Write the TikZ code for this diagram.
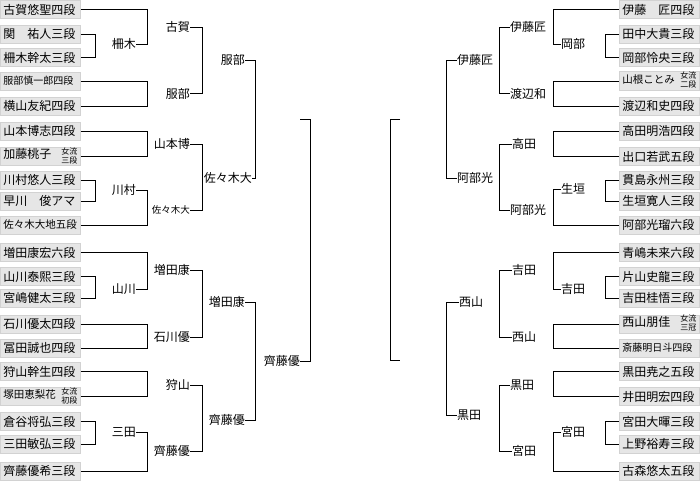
\documentclass[tikz,border=0pt]{standalone}
\usepackage{fontspec}
\setmainfont{Noto Sans CJK JP}
\newcommand{\fsz}[1]{\fontsize{#1}{#1}\selectfont}
\newcommand{\jyr}[2]{{\fontsize{8}{8.2}\selectfont\begin{tabular}[c]{@{}c@{}}#1\\#2\end{tabular}}}
\definecolor{boxfill}{HTML}{E6E6E6}
\definecolor{boxline}{HTML}{D2D2D2}
\begin{document}
\begin{tikzpicture}[x=1pt,y=-1pt,
  pbox/.style={draw=boxline, fill=boxfill, line width=0.8pt, minimum height=18pt, text width=74pt, inner xsep=3pt, inner ysep=0pt, align=left, font=\fsz{12}, anchor=west},
  lblL/.style={inner sep=0pt, anchor=east, font=\fsz{12}},
  lblR/.style={inner sep=0pt, anchor=west, font=\fsz{12}},
  conn/.style={line width=1pt, black}]
\useasboundingbox (0,0) rectangle (700,480);
% ---------- left players ----------
\node[pbox] (L1) at (0,9.5) {古賀悠聖四段};
\node[pbox] (L2) at (0,34) {関　祐人三段};
\node[pbox] (L3) at (0,57.5) {柵木幹太三段};
\node[pbox] (L4) at (0,81) {\fsz{10}服部慎一郎四段};
\node[pbox] (L5) at (0,106) {横山友紀四段};
\node[pbox] (L6) at (0,131) {山本博志四段};
\node[pbox] (L7) at (0,156.5) {加藤桃子\hfill\jyr{女流}{三段}\hspace*{1pt}};
\node[pbox] (L8) at (0,180) {川村悠人三段};
\node[pbox] (L9) at (0,201) {早川　俊アマ};
\node[pbox] (L10) at (0,225) {\fsz{10.5}佐々木大地五段};
\node[pbox] (L11) at (0,252.5) {増田康宏六段};
\node[pbox] (L12) at (0,276.5) {山川泰熙三段};
\node[pbox] (L13) at (0,298) {宮嶋健太三段};
\node[pbox] (L14) at (0,324) {石川優太四段};
\node[pbox] (L15) at (0,348) {冨田誠也四段};
\node[pbox] (L16) at (0,371.5) {狩山幹生四段};
\node[pbox] (L17) at (0,396.5) {\fsz{10.5}塚田恵梨花\hfill\jyr{女流}{初段}};
\node[pbox] (L18) at (0,421.5) {倉谷将弘三段};
\node[pbox] (L19) at (0,444) {三田敏弘三段};
\node[pbox] (L20) at (0,471) {齊藤優希三段};
% ---------- left labels ----------
\node[lblL] (sk) at (136,44.3) {柵木};
\node[lblL] (kw) at (136,190) {川村};
\node[lblL] (ym) at (136,289) {山川};
\node[lblL] (mt) at (136,432) {三田};
\node[lblL] (ga) at (190,27) {古賀};
\node[lblL] (hb2) at (190,93.5) {服部};
\node[lblL] (yh) at (190,144) {山本博};
\node[lblL, font=\fsz{9.5}] (ss2) at (190,210) {佐々木大};
\node[lblL] (mk2) at (190,270) {増田康};
\node[lblL] (iy) at (190,337) {石川優};
\node[lblL] (ky) at (190,385) {狩山};
\node[lblL] (sy2) at (190,451) {齊藤優};
\node[lblL] (hb3) at (245,60) {服部};
\node[lblL] (ss3) at (252,178) {佐々木大};
\node[lblL] (mk3) at (245,302) {増田康};
\node[lblL] (sy3) at (245,420) {齊藤優};
\coordinate (lt) at (300,119);
\node[lblL] (sy4) at (300,361) {齊藤優};
% ---------- left connectors ----------
\draw[conn] (L2.east) -- ++(15pt,0) |- (L3.east);
\draw[conn] (L8.east) -- ++(15pt,0) |- (L9.east);
\draw[conn] (L12.east) -- ++(15pt,0) |- (L13.east);
\draw[conn] (L18.east) -- ++(15pt,0) |- (L19.east);
\draw[conn] (L1.east) -- ++(67pt,0) |- (sk.east);
\draw[conn] (L4.east) -- ++(67pt,0) |- (L5.east);
\draw[conn] (L6.east) -- ++(67pt,0) |- (L7.east);
\draw[conn] (kw.east) -- ++(11pt,0) |- (L10.east);
\draw[conn] (L11.east) -- ++(67pt,0) |- (ym.east);
\draw[conn] (L14.east) -- ++(67pt,0) |- (L15.east);
\draw[conn] (L16.east) -- ++(67pt,0) |- (L17.east);
\draw[conn] (mt.east) -- ++(11pt,0) |- (L20.east);
\draw[conn] (ga.east) -- ++(12pt,0) |- (hb2.east);
\draw[conn] (yh.east) -- ++(12pt,0) |- (ss2.east);
\draw[conn] (mk2.east) -- ++(12pt,0) |- (iy.east);
\draw[conn] (ky.east) -- ++(12pt,0) |- (sy2.east);
\draw[conn] (hb3.east) -- ++(10pt,0) |- (ss3.east);
\draw[conn] (mk3.east) -- ++(10pt,0) |- (sy3.east);
\draw[conn] (lt) -- ++(10pt,0) |- (sy4.east);
% ---------- right players ----------
\node[pbox] (R1) at (619,9.5) {伊藤　匠四段};
\node[pbox] (R2) at (619,34) {田中大貴三段};
\node[pbox] (R3) at (619,57.5) {岡部怜央三段};
\node[pbox] (R4) at (619,81) {\fsz{10.5}山根ことみ\hfill\jyr{女流}{二段}};
\node[pbox] (R5) at (619,106) {渡辺和史四段};
\node[pbox] (R6) at (619,131) {高田明浩四段};
\node[pbox] (R7) at (619,156.5) {出口若武五段};
\node[pbox] (R8) at (619,180) {貫島永州三段};
\node[pbox] (R9) at (619,201) {生垣寛人三段};
\node[pbox] (R10) at (619,225) {阿部光瑠六段};
\node[pbox] (R11) at (619,252.5) {青嶋未来六段};
\node[pbox] (R12) at (619,276.5) {片山史龍三段};
\node[pbox] (R13) at (619,298) {吉田桂悟三段};
\node[pbox] (R14) at (619,324) {西山朋佳\hfill\jyr{女流}{三冠}\hspace*{1pt}};
\node[pbox] (R15) at (619,348) {\fsz{10}斎藤明日斗四段};
\node[pbox] (R16) at (619,371.5) {黒田尭之五段};
\node[pbox] (R17) at (619,396.5) {井田明宏四段};
\node[pbox] (R18) at (619,421.5) {宮田大暉三段};
\node[pbox] (R19) at (619,444) {上野裕寿三段};
\node[pbox] (R20) at (619,471) {古森悠太五段};
% ---------- right labels ----------
\node[lblR] (ob) at (561,44.3) {岡部};
\node[lblR] (ik) at (561,189) {生垣};
\node[lblR] (ys1) at (561,289) {吉田};
\node[lblR] (my1) at (561,432) {宮田};
\node[lblR] (it2) at (510,27) {伊藤匠};
\node[lblR] (wt) at (510,93.5) {渡辺和};
\node[lblR] (tk) at (512,144) {高田};
\node[lblR] (ab2) at (510,210) {阿部光};
\node[lblR] (ys2) at (512,270) {吉田};
\node[lblR] (ny2) at (512,337) {西山};
\node[lblR] (kr2) at (510,385) {黒田};
\node[lblR] (my2) at (512,451) {宮田};
\node[lblR] (it3) at (457,60) {伊藤匠};
\node[lblR] (ab3) at (457,178) {阿部光};
\node[lblR] (ny3) at (459,302) {西山};
\node[lblR] (kr3) at (457,415) {黒田};
\coordinate (rt1) at (400,119);
\coordinate (rt2) at (400,360);
% ---------- right connectors ----------
\draw[conn] (R2.west) -- ++(-14pt,0) |- (R3.west);
\draw[conn] (R8.west) -- ++(-14pt,0) |- (R9.west);
\draw[conn] (R12.west) -- ++(-14pt,0) |- (R13.west);
\draw[conn] (R18.west) -- ++(-14pt,0) |- (R19.west);
\draw[conn] (R1.west) -- ++(-66pt,0) |- (ob.west);
\draw[conn] (R4.west) -- ++(-66pt,0) |- (R5.west);
\draw[conn] (R6.west) -- ++(-66pt,0) |- (R7.west);
\draw[conn] (ik.west) -- ++(-8pt,0) |- (R10.west);
\draw[conn] (R11.west) -- ++(-66pt,0) |- (ys1.west);
\draw[conn] (R14.west) -- ++(-66pt,0) |- (R15.west);
\draw[conn] (R16.west) -- ++(-66pt,0) |- (R17.west);
\draw[conn] (my1.west) -- ++(-8pt,0) |- (R20.west);
\draw[conn] (it2.west) -- ++(-11pt,0) |- (wt.west);
\draw[conn] (tk.west) -- ++(-13pt,0) |- (ab2.west);
\draw[conn] (ys2.west) -- ++(-13pt,0) |- (ny2.west);
\draw[conn] (kr2.west) -- ++(-11pt,0) |- (my2.west);
\draw[conn] (it3.west) -- ++(-11pt,0) |- (ab3.west);
\draw[conn] (ny3.west) -- ++(-13pt,0) |- (kr3.west);
\draw[conn] (rt1) -- ++(-10pt,0) |- (rt2);
\end{tikzpicture}
\end{document}
